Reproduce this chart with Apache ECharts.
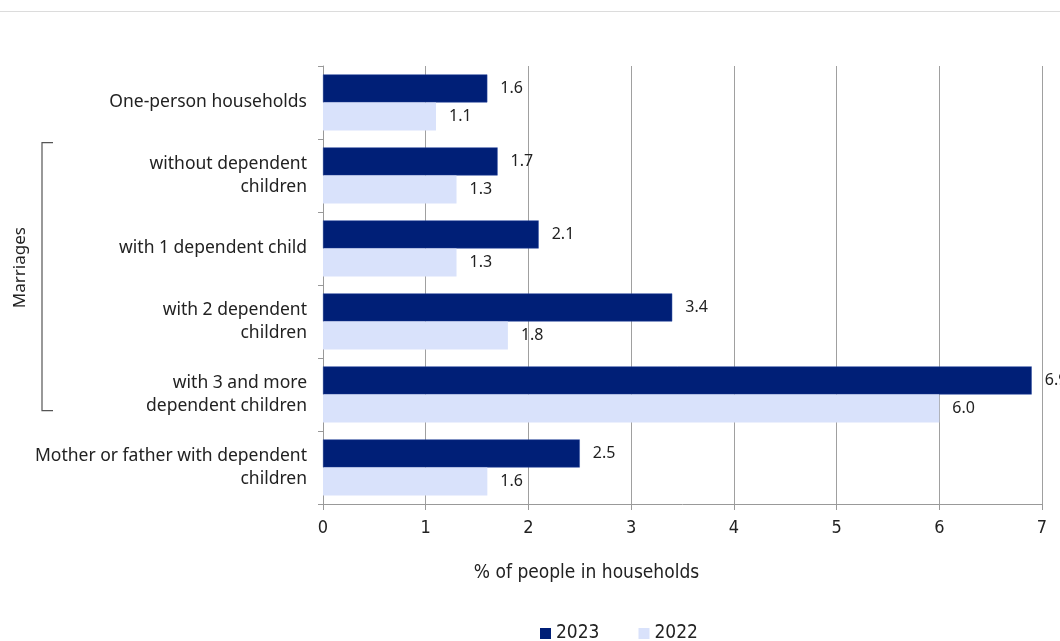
<!DOCTYPE html>
<html>
<head>
<meta charset="utf-8">
<script src="https://cdn.jsdelivr.net/npm/echarts@6/dist/echarts.min.js"></script>
<style>
  html, body { margin: 0; padding: 0; background: #fff; }
  #chart { width: 1060px; height: 641px; }
</style>
</head>
<body>
<div id="chart"></div>
<script>
// Household types (top to bottom)
const categories = [
  'One-person households',
  'without dependent\nchildren',
  'with 1 dependent child',
  'with 2 dependent\nchildren',
  'with 3 and more\ndependent children',
  'Mother or father with dependent\nchildren'
];
const seriesNames = ['2023', '2022'];
const values2023 = [1.6, 1.7, 2.1, 3.4, 6.9, 2.5];
const values2022 = [1.1, 1.3, 1.3, 1.8, 6.0, 1.6];
const xTicks = [0, 1, 2, 3, 4, 5, 6, 7];
const groupLabel = 'Marriages';
const axisTitle = '% of people in households';

const mainFont = '"Noto Sans", "Open Sans", sans-serif';
const narrowFont = '"Liberation Sans Narrow", "DejaVu Sans Condensed", "Noto Sans", sans-serif';
const colors = ['#001f77', '#d9e2fb'];

const chart = echarts.init(document.getElementById('chart'), null, { renderer: 'canvas' });

const labelCfg = {
  show: true,
  position: 'right',
  distance: 13,
  color: '#222',
  fontFamily: mainFont,
  fontSize: 16,
  formatter: p => p.value.toFixed(1)
};

chart.setOption({
  animation: false,
  color: colors,
  grid: { left: 323, right: 18, top: 66, bottom: 137, containLabel: false },
  legend: {
    data: seriesNames,
    top: 619,
    left: 535,
    itemWidth: 11,
    itemHeight: 11,
    itemGap: 39,
    icon: 'rect',
    itemStyle: { borderWidth: 0 },
    textStyle: { fontFamily: narrowFont, fontSize: 19, color: '#222' }
  },
  xAxis: {
    type: 'value',
    min: xTicks[0],
    max: xTicks[xTicks.length - 1],
    interval: 1,
    name: axisTitle,
    nameLocation: 'middle',
    nameGap: 60,
    nameTextStyle: { fontFamily: narrowFont, fontSize: 19, color: '#222', padding: [0, 192, 0, 0] },
    axisLine: { show: true, lineStyle: { color: '#999', width: 1 } },
    axisTick: { show: true, length: 6, lineStyle: { color: '#999' } },
    axisLabel: { fontFamily: narrowFont, fontSize: 18, color: '#222', margin: 15 },
    splitLine: { show: true, lineStyle: { color: '#a0a0a0', width: 1 } }
  },
  yAxis: {
    type: 'category',
    data: categories,
    inverse: true,
    axisLine: { show: true, lineStyle: { color: '#999', width: 1 } },
    axisTick: { show: true, length: 5, lineStyle: { color: '#999' } },
    axisLabel: {
      fontFamily: mainFont, fontSize: 17.5, color: '#222', margin: 16,
      lineHeight: 23, align: 'right'
    },
    splitLine: { show: false }
  },
  series: [
    {
      name: seriesNames[0], type: 'bar', data: values2023,
      barGap: '0%', barCategoryGap: '23%',
      itemStyle: { color: colors[0], borderColor: '#2a4aa0', borderWidth: 0.5 },
      label: labelCfg
    },
    {
      name: seriesNames[1], type: 'bar', data: values2022,
      barGap: '0%', barCategoryGap: '23%',
      itemStyle: { color: colors[1] },
      label: labelCfg
    }
  ]
});

// Separator rule at the top and the bracket grouping the married-couple rows
function drawExtras() {
  const yAt = i => chart.convertToPixel({ yAxisIndex: 0 }, i);
  const band = yAt(1) - yAt(0);
  const top = yAt(1) - band * 0.45;
  const bottom = yAt(4) + band * 0.22;
  const bx = 42;
  chart.setOption({
    graphic: [
      { type: 'line', shape: { x1: 0, y1: 11.5, x2: 1060, y2: 11.5 }, style: { stroke: '#dcdcdc', lineWidth: 1 }, silent: true },
      {
        type: 'polyline',
        shape: { points: [[bx + 11, top], [bx, top], [bx, bottom], [bx + 11, bottom]] },
        style: { stroke: '#555', lineWidth: 1.2, fill: null },
        silent: true
      },
      {
        type: 'text',
        x: 20, y: (top + bottom) / 2 - 9,
        rotation: Math.PI / 2,
        style: {
          text: groupLabel, fontFamily: mainFont, fontSize: 17, fill: '#222',
          align: 'center', verticalAlign: 'middle'
        },
        silent: true
      }
    ]
  });
}
drawExtras();
</script>
</body>
</html>
